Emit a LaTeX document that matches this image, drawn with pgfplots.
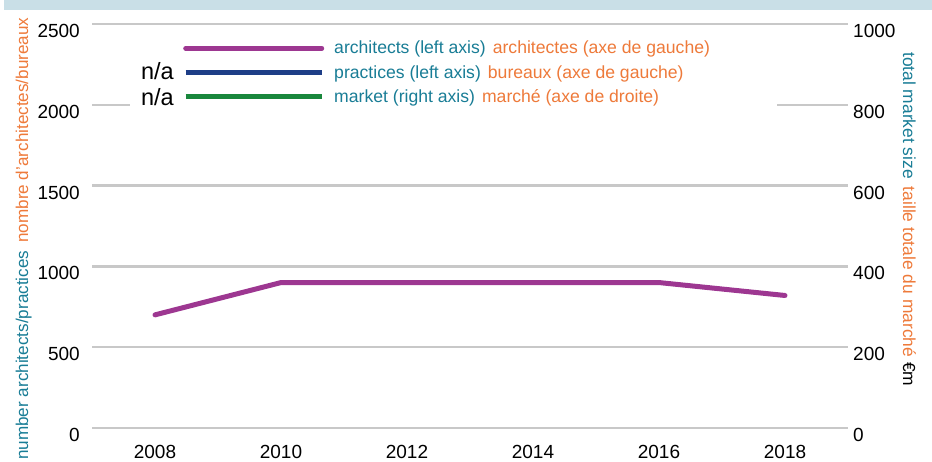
\documentclass[border=0pt]{standalone}
\usepackage{pgfplots}
\pgfplotsset{compat=1.18}
\usepackage{fontspec}
\setmainfont{Liberation Sans}
\definecolor{band}{RGB}{201,223,231}
\definecolor{gridc}{RGB}{200,200,200}
\definecolor{arch}{RGB}{157,55,145}
\definecolor{prac}{RGB}{30,62,135}
\definecolor{mkt}{RGB}{25,135,60}
\definecolor{tealc}{RGB}{25,125,150}
\definecolor{orangec}{RGB}{238,122,58}
\begin{document}
\begin{tikzpicture}[x=1pt,y=1pt]
\useasboundingbox (0,0) rectangle (932,462);
\fill[band] (4,452) rectangle (932,462);
\begin{axis}[
  at={(92pt,34pt)}, anchor=south west,
  scale only axis, width=756pt, height=404pt,
  xmin=2007, xmax=2019, ymin=0, ymax=2500,
  xtick={2008,2010,...,2018}, ytick={0,500,...,2500},
  axis line style={draw=none},
  major tick length=0pt,
  ymajorgrids, grid style={gridc, line width=2.5pt},
  tick label style={font=\fontsize{19}{21}\selectfont},
  /pgf/number format/assume math mode=true,
  /pgf/number format/1000 sep={},
  yticklabel style={anchor=east, inner sep=0pt, xshift=-12pt, yshift=-7pt},
  xticklabel style={anchor=north, inner sep=0pt, yshift=-17pt},
  clip=false,
  legend style={at={(rel axis cs:0.1204,0.958)}, anchor=north west,
    draw=none, fill=none, inner sep=0pt, row sep=10pt, column sep=10pt,
    nodes={inner sep=0pt}, font=\fontsize{17.6}{20}\selectfont},
  legend cell align=left,
  legend image code/.code={\draw[#1, line width=5pt] (0pt,0pt) -- (136pt,0pt);},
]
\fill[white] (rel axis cs:0.0503,0.782) rectangle (rel axis cs:0.906,0.985);
\addplot[arch, line width=5pt, line cap=round, line join=round] coordinates {
  (2008,700) (2010,900) (2012,900) (2014,900) (2016,900) (2018,820)};
\addlegendentry{\textcolor{tealc}{architects (left axis)}\hspace{7pt}\textcolor{orangec}{architectes (axe de gauche)}}
\addlegendimage{prac, line width=5pt}
\addlegendentry{\textcolor{tealc}{practices (left axis)}\hspace{7pt}\textcolor{orangec}{bureaux (axe de gauche)}}
\addlegendimage{mkt, line width=5pt}
\addlegendentry{\textcolor{tealc}{market (right axis)}\hspace{7pt}\textcolor{orangec}{marché (axe de droite)}}
\end{axis}
\begin{axis}[
  at={(92pt,34pt)}, anchor=south west,
  scale only axis, width=756pt, height=404pt,
  xmin=2007, xmax=2019, ymin=0, ymax=1000,
  xtick=\empty, ytick={0,200,...,1000},
  axis line style={draw=none},
  major tick length=0pt,
  yticklabel pos=right,
  tick label style={font=\fontsize{19}{21}\selectfont},
  /pgf/number format/assume math mode=true,
  /pgf/number format/1000 sep={},
  yticklabel style={anchor=west, inner sep=0pt, xshift=5pt, yshift=-7pt},
]
\end{axis}
\node[rotate=90, anchor=base west, inner sep=0pt, font=\fontsize{17.1}{20}\selectfont] at (28,2)
  {\textcolor{tealc}{number architects/practices}\hspace{8pt}\textcolor{orangec}{nombre d'architectes/bureaux}};
\node[rotate=-90, anchor=base west, inner sep=0pt, font=\fontsize{17.4}{20}\selectfont] at (903,410)
  {\textcolor{tealc}{total market size}\hspace{8pt}\textcolor{orangec}{taille totale du marché}\hspace{5pt}€m};
\node[anchor=base east, inner sep=0pt, font=\fontsize{23.5}{26}\selectfont] at (174,382) {n/a};
\node[anchor=base east, inner sep=0pt, font=\fontsize{23.5}{26}\selectfont] at (174,356) {n/a};
\end{tikzpicture}
\end{document}
